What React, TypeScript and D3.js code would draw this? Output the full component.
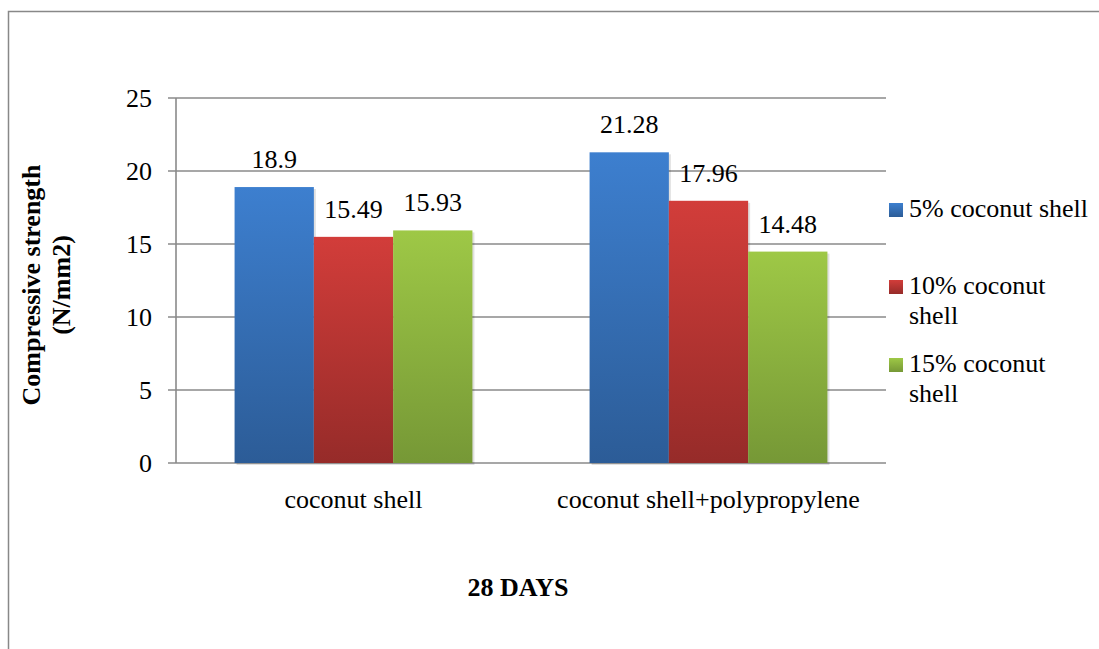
import React from "react";
import * as d3 from "d3";

const categories = ["coconut shell", "coconut shell+polypropylene"];
const seriesNames = ["5% coconut shell", "10% coconut shell", "15% coconut shell"];
const legendLines = [["5% coconut shell"], ["10% coconut", "shell"], ["15% coconut", "shell"]];
const values5 = [18.9, 21.28];
const values10 = [15.49, 17.96];
const values15 = [15.93, 14.48];
const yTicks = [0, 5, 10, 15, 20, 25];

const seriesValues = [values5, values10, values15];
const gradients = [
  { id: "gBlue", top: "#3d7fcf", bottom: "#2c5c97" },
  { id: "gRed", top: "#d23d3a", bottom: "#962b29" },
  { id: "gGreen", top: "#9ec846", bottom: "#769836" },
];

const W = 1099;
const H = 649;
const plot = { left: 176, right: 886, top: 98, bottom: 463 };
const fs = 26;
const gridColor = "#8a8a8a";

const css = `
svg.chart text { font-family: "Liberation Serif", "Times New Roman", Tinos, serif !important; }
svg.chart text.reg { font-weight: 400; }
svg.chart text.bold { font-weight: 700; }
`;

export default function App() {
  const y = d3.scaleLinear().domain([0, 25]).range([plot.bottom, plot.top]);
  const x0 = d3
    .scaleBand<string>()
    .domain(categories)
    .range([plot.left, plot.right])
    .paddingInner(0.33)
    .paddingOuter(0.165);
  const x1 = d3
    .scaleBand<string>()
    .domain(seriesNames)
    .range([0, x0.bandwidth()]);

  const legendRows = [203, 280, 358];

  return (
    <svg className="chart" width={W} height={H} style={{ position: "absolute", left: 0, top: 0 }}>
      <style>{css}</style>
      <defs>
        {gradients.map((g) => (
          <linearGradient key={g.id} id={g.id} x1="0" y1="0" x2="0" y2="1">
            <stop offset="0%" stopColor={g.top} />
            <stop offset="100%" stopColor={g.bottom} />
          </linearGradient>
        ))}
      </defs>

      {/* outer chart border */}
      <rect x={8.5} y={11.5} width={W + 20} height={H + 20} fill="none" stroke="#888" strokeWidth={1.5} />

      {/* horizontal gridlines and y ticks */}
      {yTicks.map((t) => (
        <g key={t}>
          <line x1={plot.left - 8} x2={plot.right} y1={y(t)} y2={y(t)} stroke={gridColor} strokeWidth={1.6} />
          <text className="reg" x={152} y={y(t) + 9} textAnchor="end" fontSize={fs}>
            {String(t)}
          </text>
        </g>
      ))}
      <line x1={plot.left} x2={plot.left} y1={plot.top} y2={plot.bottom} stroke={gridColor} strokeWidth={1.6} />

      {/* bar shadows */}
      {categories.map((c, ci) =>
        seriesNames.map((s, si) => {
          const v = seriesValues[si][ci];
          const bx = (x0(c) ?? 0) + (x1(s) ?? 0);
          return (
            <rect
              key={c + s}
              x={bx + 2}
              y={y(v) + 2}
              width={x1.bandwidth()}
              height={y(0) - y(v)}
              fill="#000"
              opacity={0.12}
            />
          );
        })
      )}

      {/* bars */}
      {categories.map((c, ci) =>
        seriesNames.map((s, si) => {
          const v = seriesValues[si][ci];
          const bx = (x0(c) ?? 0) + (x1(s) ?? 0);
          return (
            <rect
              key={c + s}
              x={bx}
              y={y(v)}
              width={x1.bandwidth()}
              height={y(0) - y(v)}
              fill={`url(#${gradients[si].id})`}
            />
          );
        })
      )}

      {/* data labels */}
      {categories.map((c, ci) =>
        seriesNames.map((s, si) => {
          const v = seriesValues[si][ci];
          const cx = (x0(c) ?? 0) + (x1(s) ?? 0) + x1.bandwidth() / 2;
          return (
            <text className="reg" key={c + s} x={cx} y={y(v) - 19} textAnchor="middle" fontSize={fs}>
              {String(v)}
            </text>
          );
        })
      )}

      {/* category labels */}
      {categories.map((c) => (
        <text
          className="reg"
          key={c}
          x={(x0(c) ?? 0) + x0.bandwidth() / 2}
          y={508}
          textAnchor="middle"
          fontSize={fs}
        >
          {c}
        </text>
      ))}

      {/* axis titles */}
      <text className="bold" x={518} y={596} textAnchor="middle" fontSize={fs}>
        28 DAYS
      </text>
      <g transform="translate(40, 285) rotate(-90)">
        <text className="bold" x={0} y={0} textAnchor="middle" fontSize={fs}>
          Compressive strength
        </text>
        <text className="bold" x={0} y={30} textAnchor="middle" fontSize={fs}>
          (N/mm2)
        </text>
      </g>

      {/* legend */}
      {seriesNames.map((s, si) => (
        <g key={s}>
          <rect x={889} y={legendRows[si]} width={14} height={14} fill={`url(#${gradients[si].id})`} />
          {legendLines[si].map((ln, li) => (
            <text className="reg" key={li} x={909} y={legendRows[si] + 14 + li * 30} fontSize={fs}>
              {ln}
            </text>
          ))}
        </g>
      ))}
    </svg>
  );
}
